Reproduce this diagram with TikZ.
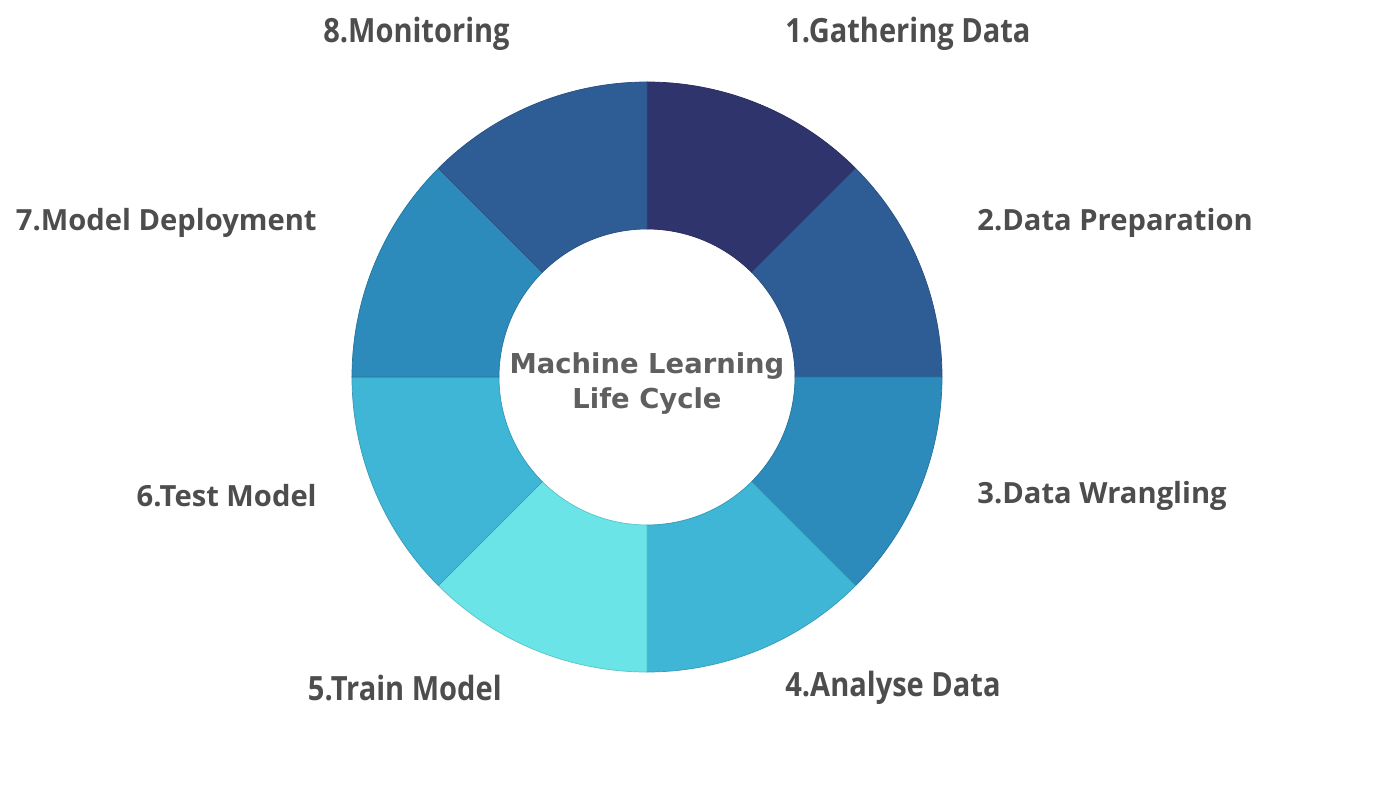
\documentclass[tikz,border=0pt]{standalone}
\usepackage{fontspec}
\setmainfont{Open Sans}
\newfontfamily\condfont[FakeStretch=0.87]{Open Sans}
\newfontfamily\centerfont{DejaVu Sans}
\usepackage{xcolor}
\usetikzlibrary{positioning}
\definecolor{navy}{HTML}{30346C}
\definecolor{steel}{HTML}{2E5D96}
\definecolor{ocean}{HTML}{2C8BBA}
\definecolor{sky}{HTML}{40B6D6}
\definecolor{aqua}{HTML}{6BE4E8}
\definecolor{labelgray}{HTML}{4D4D4D}
\def\GatherColor{navy}
\def\PrepColor{steel}
\def\WrangleColor{ocean}
\def\AnalyseColor{sky}
\def\TrainColor{aqua}

\begin{document}
\begin{tikzpicture}[
     seg/.style = {line width=0.4pt},
    side/.style = {text=labelgray, font=\fontsize{16.6}{20}\selectfont\bfseries, inner sep=0pt},
    tops/.style = {text=labelgray, font=\condfont\fontsize{19}{22}\selectfont\bfseries, inner sep=0pt},
     hub/.style = {text=labelgray!90!white, align=center,
                   font=\centerfont\fontsize{15.6}{20}\selectfont\bfseries}
                        ]
\useasboundingbox (-12.94,-8.22) rectangle (15.06,7.54);
% ring, clockwise from the top
\foreach \a/\col in {90/\GatherColor, 45/\PrepColor, 0/\WrangleColor, -45/\AnalyseColor,
                     -90/\TrainColor, -135/\AnalyseColor, -180/\WrangleColor, -225/\PrepColor}
  \filldraw[seg, fill=\col, draw=\col!85!black]
      (\a:5.9cm) arc[start angle=\a, end angle=\a-45, radius=5.9cm]
      -- (\a-45:2.96cm) arc[start angle=\a-45, end angle=\a, radius=2.96cm] -- cycle;
\node[hub] (cycle) at (0,-0.13) {Machine Learning\\Life Cycle};

\node[tops, anchor=west] (gather)  at (2.76,6.86)   {1.Gathering Data};
\node[side, anchor=west] (prep)    at (6.6,3.08)    {2.Data Preparation};
\node[side, anchor=west] (wrangle) at (6.6,-2.37)   {3.Data Wrangling};
\node[tops, anchor=west] (analyse) at (2.76,-6.22)  {4.Analyse Data};
\node[tops, anchor=east] (train)   at (-2.9,-6.22)  {5.Train Model};
\node[side, anchor=east] (test)    at (-6.6,-2.37)  {6.Test Model};
\node[side, anchor=east] (deploy)  at (-6.6,3.08)   {7.Model Deployment};
\node[tops, anchor=east] (monitor) at (-2.74,6.86)  {8.Monitoring};
\end{tikzpicture}
\end{document}
